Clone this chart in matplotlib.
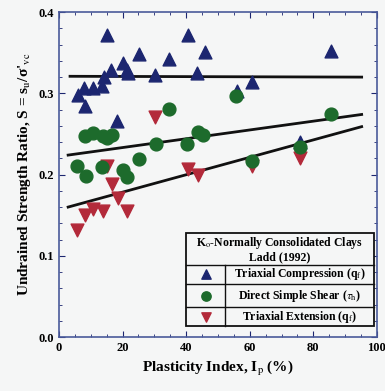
import numpy as np
import matplotlib.pyplot as plt

# Ladd (1992) data: K0-normally consolidated clays
tc_ip = [5.9, 8.2, 7.9, 10.8, 13.7, 14.3, 15.0, 16.3, 18.3, 20.2, 21.3, 21.8,
         25.3, 30.2, 34.6, 40.7, 43.3, 45.9, 55.9, 60.8, 85.5, 75.8]
tc_s = [0.298, 0.285, 0.307, 0.306, 0.309, 0.320, 0.372, 0.329, 0.266, 0.337, 0.329, 0.325,
        0.348, 0.322, 0.342, 0.372, 0.325, 0.351, 0.303, 0.314, 0.352, 0.240]

dss_ip = [5.8, 8.5, 8.2, 10.6, 13.9, 15.2, 16.6, 13.7, 20.2, 21.3, 25.3, 30.5,
          34.7, 40.3, 43.8, 45.4, 55.7, 60.8, 75.8, 85.5]
dss_s = [0.210, 0.198, 0.247, 0.251, 0.247, 0.245, 0.249, 0.209, 0.206, 0.197, 0.219, 0.238,
         0.281, 0.238, 0.253, 0.249, 0.297, 0.217, 0.234, 0.275]

te_ip = [15.2, 16.6, 30.2, 40.7, 43.8, 60.8, 75.8, 5.8, 8.2, 10.8, 13.9, 18.5, 21.5]
te_s = [0.210, 0.189, 0.271, 0.207, 0.199, 0.211, 0.220, 0.132, 0.150, 0.158, 0.155, 0.171, 0.155]

# trend lines (end points)
tc_fit_x, tc_fit_y = [3.5, 95.2], [0.321, 0.320]
dss_fit_x, dss_fit_y = [2.9, 95.2], [0.224, 0.274]
te_fit_x, te_fit_y = [2.9, 95.2], [0.160, 0.259]

navy = '#1c2670'
green = '#1d6b2c'
red = '#b32a3a'

plt.rcParams['font.family'] = ['Liberation Serif', 'DejaVu Serif']
plt.rcParams['mathtext.fontset'] = 'stix'

fig = plt.figure(figsize=(3.85, 3.91), dpi=100)
fig.patch.set_facecolor('#f5f6f6')
ax = fig.add_axes([0.153, 0.138, 0.826, 0.831])
ax.set_facecolor('#f5f6f6')

ax.plot(tc_fit_x, tc_fit_y, color='#111111', lw=2, zorder=2)
ax.plot(dss_fit_x, dss_fit_y, color='#111111', lw=2, zorder=2)
ax.plot(te_fit_x, te_fit_y, color='#111111', lw=2, zorder=2)

ax.scatter(tc_ip, tc_s, marker='^', s=85, color=navy, zorder=3)
ax.scatter(dss_ip, dss_s, marker='o', s=85, color=green, zorder=4)
ax.scatter(te_ip, te_s, marker='v', s=85, color=red, zorder=3)

ax.set_xlim(0, 100)
ax.set_ylim(0, 0.4)
ax.set_xticks(np.arange(0, 101, 20))
ax.set_xticks(np.arange(0, 101, 5), minor=True)
ax.set_yticks([0.0, 0.1, 0.2, 0.3, 0.4])
ax.set_yticklabels(['0.0', '0.1', '0.2', '0.3', '0.4'])
ax.set_yticks(np.arange(0, 0.401, 0.02), minor=True)
ax.tick_params(which='both', direction='in', top=True, right=True, color=navy,
               labelsize=9)
ax.tick_params(which='major', length=4)
ax.tick_params(which='minor', length=2)
for lab in ax.get_xticklabels() + ax.get_yticklabels():
    lab.set_fontweight('bold')
for sp in ax.spines.values():
    sp.set_color('#4a5a9a')
    sp.set_linewidth(1.2)

ax.set_xlabel(r"Plasticity Index, I$_{\rm p}$ (%)", fontsize=11, fontweight='bold')
ax.set_ylabel(r"Undrained Strength Ratio, S = s$_{\rm u}$/σ'$_{\rm vc}$", fontsize=11,
              fontweight='bold')

# legend drawn as a table
tr = ax.transAxes
x0, x1, xs = 0.40, 0.99, 0.522
y0, y1 = 0.034, 0.32
rows = [0.222, 0.163, 0.092]
ax.add_patch(plt.Rectangle((x0, y0), x1 - x0, y1 - y0, transform=tr,
                           facecolor='#f5f6f6', edgecolor='#111111', lw=1.3, zorder=5))
for r in rows:
    ax.plot([x0, x1], [r, r], transform=tr, color='#111111', lw=1, zorder=6)
ax.plot([xs, xs], [y0, rows[0]], transform=tr, color='#111111', lw=1, zorder=6)

ax.text((x0 + x1) / 2, 0.29, r"K$_{\rm o}$-Normally Consolidated Clays", transform=tr,
        ha='center', va='center', fontsize=8.5, fontweight='bold', zorder=7)
ax.text((x0 + x1) / 2, 0.245, "Ladd (1992)", transform=tr,
        ha='center', va='center', fontsize=8.5, fontweight='bold', zorder=7)

labels = [r"Triaxial Compression (q$_{\rm f}$)",
          r"Direct Simple Shear ($\tau_{\rm h}$)",
          r"Triaxial Extension (q$_{\rm f}$)"]
markers = ['^', 'o', 'v']
colors = [navy, green, red]
edges = sorted([y0] + rows, reverse=True)
for i in range(3):
    yc = (edges[i] + edges[i + 1]) / 2
    ax.scatter([(x0 + xs) / 2], [yc], transform=tr, marker=markers[i], s=45,
               color=colors[i], zorder=7, clip_on=False)
    ax.text((xs + x1) / 2, yc, labels[i], transform=tr, ha='center', va='center',
            fontsize=8.5, fontweight='bold', zorder=7)

fig.savefig('out.png', dpi=100, facecolor=fig.get_facecolor())
